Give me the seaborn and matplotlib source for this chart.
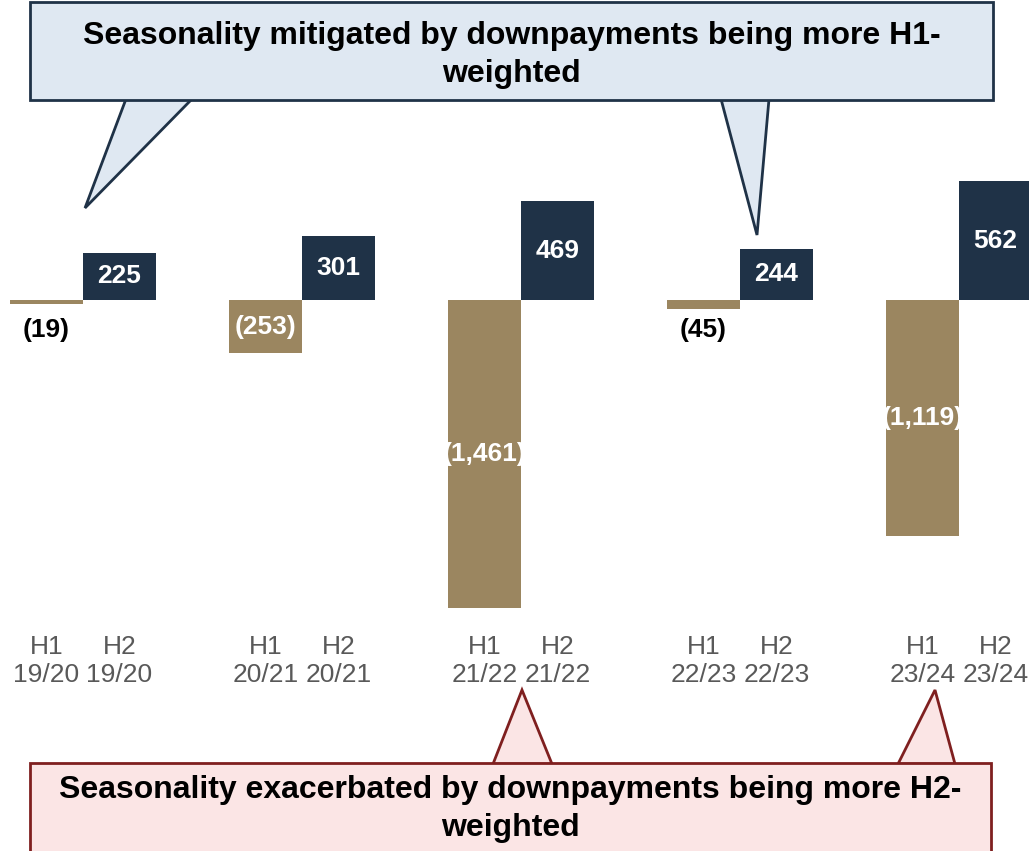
import numpy as np
import pandas as pd
import seaborn as sns
import matplotlib.pyplot as plt
from matplotlib.patches import Polygon, Rectangle

# Data
years = ["19/20", "20/21", "21/22", "22/23", "23/24"]
h1_values = [-19, -253, -1461, -45, -1119]
h2_values = [225, 301, 469, 244, 562]

tan = "#9B8660"
navy = "#1F3247"
grey = "#595959"

rows = []
for i, yr in enumerate(years):
    rows.append({"pos": 3 * i + 0.5, "value": h1_values[i], "half": "H1", "year": yr})
    rows.append({"pos": 3 * i + 1.5, "value": h2_values[i], "half": "H2", "year": yr})
df = pd.DataFrame(rows)

sns.set_style("white")
plt.rcParams["font.family"] = ["Liberation Sans", "DejaVu Sans"]

W, H = 1029, 851
fig = plt.figure(figsize=(W / 100, H / 100), dpi=100)
ax = fig.add_axes([0, 1 - 620 / H, 1, 620 / H])

sns.barplot(data=df, x="pos", y="value", hue="half", palette={"H1": tan, "H2": navy},
            native_scale=True, dodge=False, width=1, legend=False, ax=ax,
            linewidth=0, saturation=1)

ax.set_xlim(-10 / 73, (W - 10) / 73)
ax.set_ylim((300 - 620) / 0.211, 300 / 0.211)
for s in ax.spines.values():
    s.set_visible(False)
ax.set_yticks([])
ax.set_xticks(df["pos"])
ax.set_xticklabels([f"{h}\n{y}" for h, y in zip(df["half"], df["year"])],
                   fontsize=19, color=grey)
ax.tick_params(axis="x", length=0, pad=11)
ax.set_xlabel("")
ax.set_ylabel("")

# value labels
for _, r in df.iterrows():
    v = r["value"]
    txt = f"({abs(v):,})" if v < 0 else f"{v:,}"
    if abs(v) < 100:
        ax.text(r["pos"], -140, txt, ha="center", va="center",
                fontsize=19, fontweight="bold", color="black")
    else:
        ax.text(r["pos"], v / 2, txt, ha="center", va="center",
                fontsize=19, fontweight="bold", color="white")


def px(x, y):
    return (x / W, 1 - y / H)


def callout(box, tails, face, edge, text, text_y):
    x0, y0, x1, y1 = box
    for t in tails:
        poly = Polygon([px(*p) for p in t], closed=True, transform=fig.transFigure,
                       facecolor=face, edgecolor=edge, linewidth=2, zorder=5)
        fig.add_artist(poly)
    rect = Rectangle(px(x0, y1), (x1 - x0) / W, (y1 - y0) / H, transform=fig.transFigure,
                     facecolor=face, edgecolor=edge, linewidth=2, zorder=6)
    fig.add_artist(rect)
    for line, ty in zip(text, text_y):
        fig.text(*px((x0 + x1) / 2, ty), line, ha="center", va="center",
                 fontsize=23, fontweight="bold", color="black", zorder=7)


callout((30, 2, 993, 100),
        [[(126, 99), (192, 99), (85, 208)], [(721, 99), (769, 99), (757, 235)]],
        "#DFE8F2", navy,
        ["Seasonality mitigated by downpayments being more H1-", "weighted"], [36, 74])

callout((30, 763, 991, 870),
        [[(493, 764), (552, 764), (522, 690)], [(898, 764), (955, 764), (935, 690)]],
        "#FBE5E5", "#7F1F1F",
        ["Seasonality exacerbated by downpayments being more H2-", "weighted"], [790, 828])

fig.savefig("out.png", dpi=100)
